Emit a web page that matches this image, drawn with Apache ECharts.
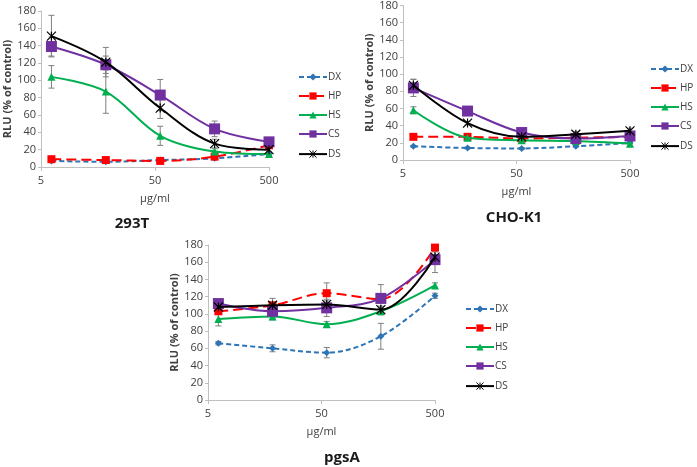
<!DOCTYPE html>
<html>
<head>
<meta charset="utf-8">
<script src="https://cdn.jsdelivr.net/npm/echarts@6/dist/echarts.min.js"></script>
<style>
  html, body { margin: 0; padding: 0; background: #fff; }
  #chart { width: 697px; height: 467px; }
</style>
</head>
<body>
<div id="chart"></div>
<script>
// concentrations (3-fold dilution from 500 µg/ml)
const conc = [500 / 81, 500 / 27, 500 / 9, 500 / 3, 500];
const names = ['DX', 'HP', 'HS', 'CS', 'DS'];
const xTicks = ['5', '50', '500'];

// 293T
const dx293 = [7, 6, 8, 10, 15];
const hp293 = [9, 8, 7, 12, 25];
const hs293 = [104, 87, 36, 18, 15];
const cs293 = [139, 118, 83, 44, 29];
const ds293 = [151, 121, 68, 27, 20];
const dx293Err = [1, 1, 1, 2, 2];
const hp293Err = [2, 2, 2, 2, 3];
const hs293Err = [13, 25, 11, 3, 2];
const cs293Err = [11, 10, 18, 9, 3];
const ds293Err = [24, 17, 12, 5, 3];

// CHO-K1
const dxCho = [16, 14, 13.5, 16, 20];
const hpCho = [27, 27, 25, 26, 27];
const hsCho = [58, 26, 23, 22, 19];
const csCho = [84, 57, 32, 25, 28];
const dsCho = [87, 43, 27, 30, 34];
const dxChoErr = [1, 1, 1, 1, 1];
const hpChoErr = [1, 1, 1, 1, 1];
const hsChoErr = [4, 2, 2, 2, 2];
const csChoErr = [10, 3, 3, 2, 3];
const dsChoErr = [7, 2, 3, 3, 3];

// pgsA
const dxPgs = [66, 60, 55, 74, 121];
const hpPgs = [103, 110, 124, 117, 177];
const hsPgs = [94, 97, 88, 103, 133];
const csPgs = [112, 103, 107, 118, 163];
const dsPgs = [108, 110, 111, 105, 166];
const dxPgsErr = [2, 4, 6, 15, 3];
const hpPgsErr = [3, 3, 12, 4, 3];
const hsPgsErr = [8, 4, 3, 4, 3];
const csPgsErr = [3, 3, 10, 16, 15];
const dsPgsErr = [3, 8, 4, 4, 6];

const asterisk = 'path://M0,0L10,10M10,0L0,10M5,0L5,10';

const styles = {
  DX: { color: '#2e75b6', symbol: 'diamond', size: 7, type: [5, 3] },
  HP: { color: '#ff0000', symbol: 'rect', size: 8, type: [10, 5] },
  HS: { color: '#00b050', symbol: 'triangle', size: 8, type: 'solid' },
  CS: { color: '#7030a0', symbol: 'rect', size: 11, type: 'solid' },
  DS: { color: '#000000', symbol: asterisk, size: 9, type: 'solid' }
};

const panels = [
  { title: '293T', grid: { left: 41, top: 11, width: 228, height: 156 },
    titlePos: { left: 127, top: 211 }, legendPos: { left: 293, top: 67 },
    values: [dx293, hp293, hs293, cs293, ds293],
    errs: [dx293Err, hp293Err, hs293Err, cs293Err, ds293Err] },
  { title: 'CHO-K1', grid: { left: 403, top: 5, width: 227, height: 155 },
    titlePos: { left: 509, top: 205 }, legendPos: { left: 645, top: 59 },
    values: [dxCho, hpCho, hsCho, csCho, dsCho],
    errs: [dxChoErr, hpChoErr, hsChoErr, csChoErr, dsChoErr] },
  { title: 'pgsA', grid: { left: 208, top: 245, width: 227, height: 155 },
    titlePos: { left: 337, top: 445 }, legendPos: { left: 460, top: 299 },
    values: [dxPgs, hpPgs, hsPgs, csPgs, dsPgs],
    errs: [dxPgsErr, hpPgsErr, hsPgsErr, csPgsErr, dsPgsErr] }
];

const textColor = '#404040';
const axisColor = '#bfbfbf';

function errorRender(params, api) {
  const x = api.value(0);
  const lo = api.coord([x, api.value(1)]);
  const hi = api.coord([x, api.value(2)]);
  const style = { stroke: '#7f7f7f', lineWidth: 1 };
  return {
    type: 'group',
    children: [
      { type: 'line', shape: { x1: lo[0], y1: lo[1], x2: hi[0], y2: hi[1] }, style },
      { type: 'line', shape: { x1: lo[0] - 3, y1: lo[1], x2: lo[0] + 3, y2: lo[1] }, style },
      { type: 'line', shape: { x1: hi[0] - 3, y1: hi[1], x2: hi[0] + 3, y2: hi[1] }, style }
    ]
  };
}

const option = {
  animation: false,
  backgroundColor: '#fff',
  title: [], grid: [], xAxis: [], yAxis: [], legend: [], series: []
};

panels.forEach((p, i) => {
  option.grid.push(p.grid);
  option.title.push({
    text: p.title, left: p.titlePos.left, top: p.titlePos.top,
    textAlign: 'center',
    textStyle: { fontFamily: 'Open Sans', fontWeight: 'bold', fontSize: 15, color: '#1a1a1a' }
  });
  option.xAxis.push({
    gridIndex: i, type: 'log', logBase: 10, min: 5, max: 500, interval: 1,
    name: 'μg/ml', nameLocation: 'middle', nameGap: 26,
    nameTextStyle: { fontFamily: 'Open Sans', fontSize: 11, color: textColor },
    axisLine: { lineStyle: { color: axisColor } },
    axisTick: { show: true, length: 4, lineStyle: { color: axisColor } },
    splitLine: { show: false },
    axisLabel: {
      fontFamily: 'Open Sans', fontSize: 11, color: textColor, margin: 8,
      formatter: v => xTicks.find(t => Math.abs(+t - v) < 0.5) || ''
    }
  });
  option.yAxis.push({
    gridIndex: i, type: 'value', min: 0, max: 180, interval: 20,
    name: 'RLU (% of control)', nameLocation: 'middle', nameGap: 27,
    nameTextStyle: { fontFamily: 'Open Sans', fontSize: 11, fontWeight: 'bold', color: textColor },
    axisLine: { show: true, lineStyle: { color: axisColor } },
    axisTick: { show: true, length: 3, lineStyle: { color: axisColor } },
    splitLine: { show: false },
    axisLabel: { fontFamily: 'Open Sans', fontSize: 11, color: textColor, margin: 5 }
  });
  option.legend.push({
    data: names.map(n => ({
      name: n,
      lineStyle: { color: styles[n].color, width: 2, type: styles[n].type },
      itemStyle: n === 'DS'
        ? { color: 'none', borderColor: '#000', borderWidth: 1 }
        : { color: styles[n].color }
    })),
    orient: 'vertical', left: p.legendPos.left, top: p.legendPos.top,
    itemWidth: 28, itemHeight: 9, itemGap: 9,
    textStyle: { fontFamily: 'Open Sans', fontSize: 10, color: textColor, padding: [0, 0, 0, -4] },
    selectedMode: false
  });
  names.forEach((n, k) => {
    const s = styles[n];
    option.series.push({
      type: 'custom', xAxisIndex: i, yAxisIndex: i, z: 1,
      renderItem: errorRender, encode: { x: 0, y: [1, 2] },
      data: conc.map((c, j) => [c, p.values[k][j] - p.errs[k][j], p.values[k][j] + p.errs[k][j]])
    });
    option.series.push({
      name: n, type: 'line', xAxisIndex: i, yAxisIndex: i, z: 2 + k,
      smooth: 0.35,
      symbol: s.symbol, symbolSize: s.size,
      itemStyle: n === 'DS'
        ? { color: 'none', borderColor: '#000', borderWidth: 1.2 }
        : { color: s.color },
      lineStyle: { color: s.color, width: 2, type: s.type },
      data: conc.map((c, j) => [c, p.values[k][j]])
    });
  });
});

const chart = echarts.init(document.getElementById('chart'));
chart.setOption(option);
</script>
</body>
</html>
